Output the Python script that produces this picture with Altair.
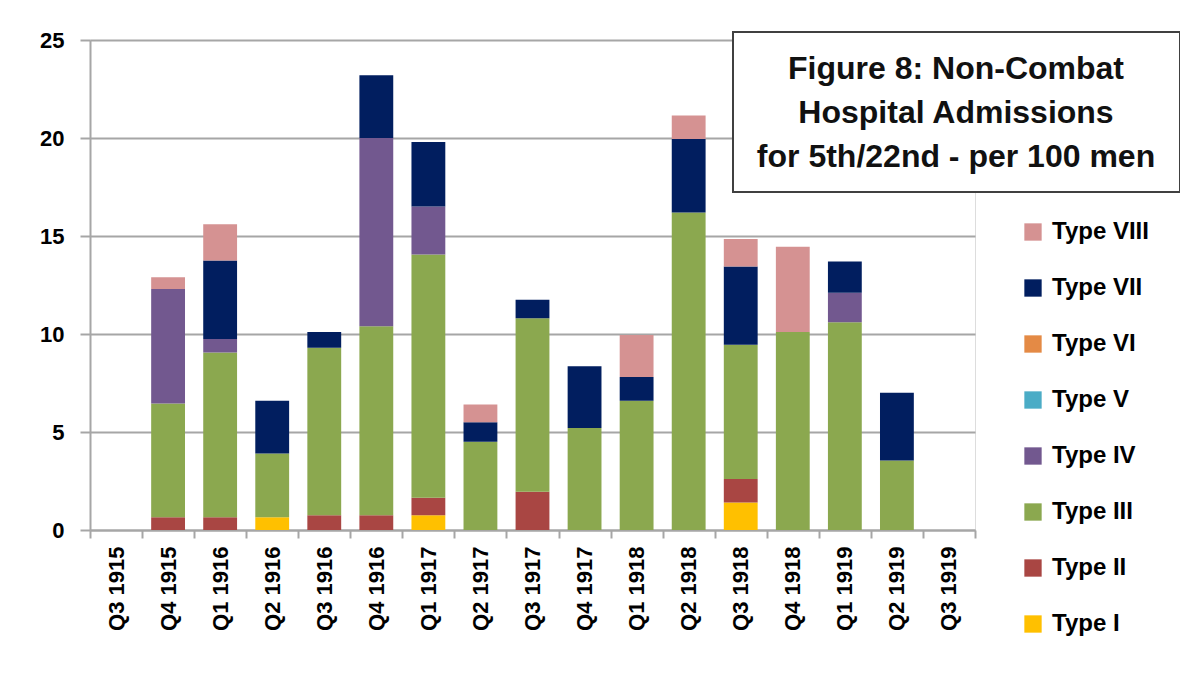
import altair as alt
import pandas as pd

quarters = ["Q3 1915", "Q4 1915", "Q1 1916", "Q2 1916", "Q3 1916", "Q4 1916",
            "Q1 1917", "Q2 1917", "Q3 1917", "Q4 1917", "Q1 1918", "Q2 1918",
            "Q3 1918", "Q4 1918", "Q1 1919", "Q2 1919", "Q3 1919"]

type_i    = [0, 0,    0,    0.65, 0,    0,    0.75, 0,   0,    0,    0,    0,    1.4,  0,    0,    0,    0]
type_ii   = [0, 0.65, 0.65, 0,    0.75, 0.75, 0.9,  0,   1.95, 0,    0,    0,    1.2,  0,    0,    0,    0]
type_iii  = [0, 5.8,  8.4,  3.25, 8.55, 9.65, 12.4, 4.5, 8.85, 5.2,  6.6,  16.2, 6.85, 10.1, 10.6, 3.55, 0]
type_iv   = [0, 5.85, 0.7,  0,    0,    9.6,  2.45, 0,   0,    0,    0,    0,    0,    0,    1.5,  0,    0]
type_v    = [0] * 17
type_vi   = [0] * 17
type_vii  = [0, 0,    4.0,  2.7,  0.8,  3.2,  3.3,  1.0, 0.95, 3.15, 1.2,  3.75, 4.0,  0,    1.6,  3.45, 0]
type_viii = [0, 0.6,  1.85, 0,    0,    0,    0,    0.9, 0,    0,    2.15, 1.2,  1.4,  4.35, 0,    0,    0]

type_names = ["Type I", "Type II", "Type III", "Type IV", "Type V", "Type VI", "Type VII", "Type VIII"]
type_colors = ["#FFC000", "#A94643", "#8BA84F", "#72588F", "#4BACC6", "#E48A45", "#011E5F", "#D59292"]
series = [type_i, type_ii, type_iii, type_iv, type_v, type_vi, type_vii, type_viii]

title_lines = ["Figure 8: Non-Combat", "Hospital Admissions", "for 5th/22nd - per 100 men"]

rows = []
for k, (name, vals) in enumerate(zip(type_names, series)):
    for q, v in zip(quarters, vals):
        rows.append({"quarter": q, "type": name, "value": v, "order": k})
df = pd.DataFrame(rows)

FONT = "Liberation Sans"
GRAY = "#A6A6A6"

legend_domain = list(reversed(type_names))
legend_range = list(reversed(type_colors))

bars = alt.Chart(df).mark_bar(width=alt.RelativeBandSize(0.65)).encode(
    x=alt.X("quarter:N", sort=quarters, title=None,
            scale=alt.Scale(paddingInner=0, paddingOuter=0),
            axis=alt.Axis(labelAngle=270, labelAlign="right", labelBaseline="middle",
                          labelFontSize=22, labelFont=FONT, labelFontWeight="bold",
                          labelColor="#000000", labelPadding=8,
                          tickBand="extent", tickSize=8, tickColor=GRAY, tickWidth=2,
                          domainColor=GRAY, domainWidth=2, grid=False)),
    y=alt.Y("value:Q", stack="zero", title=None,
            scale=alt.Scale(domain=[0, 25], nice=False),
            axis=alt.Axis(values=[0, 5, 10, 15, 20, 25], labelFontSize=22, labelFont=FONT,
                          labelFontWeight="bold", labelColor="#000000", labelPadding=16,
                          tickSize=10, tickColor=GRAY, tickWidth=2,
                          domainColor=GRAY, domainWidth=2,
                          grid=True, gridColor=GRAY, gridWidth=2)),
    color=alt.Color("type:N", scale=alt.Scale(domain=legend_domain, range=legend_range),
                    legend=alt.Legend(title=None, orient="none", legendX=931, legendY=180,
                                      symbolType="square", symbolSize=300, symbolStrokeWidth=0,
                                      labelFontSize=24, labelFont=FONT, labelFontWeight="bold",
                                      labelColor="#000000", labelOffset=7, rowPadding=32)),
    order=alt.Order("order:Q", sort="ascending"),
)

box_df = pd.DataFrame({"k": [0]})
box = alt.Chart(box_df).mark_rect(fill="white", stroke="#404040", strokeWidth=2).encode(
    x=alt.value(643), x2=alt.value(1090), y=alt.value(-8), y2=alt.value(152)
)
title_text = alt.Chart(box_df).mark_text(
    font=FONT, fontWeight="bold", fontSize=32, lineHeight=44,
    align="center", baseline="top", color="#111111"
).encode(
    x=alt.value(866), y=alt.value(14), text=alt.value(title_lines)
)

chart = alt.layer(bars, box, title_text).properties(
    width=885, height=490,
    autosize=alt.AutoSizeParams(type="none"),
    padding={"left": 82, "top": 32, "right": 205, "bottom": 139},
).configure_view(stroke=None).configure(background="white")

chart.save("out.html", embed_options={"renderer": "svg", "actions": False})
